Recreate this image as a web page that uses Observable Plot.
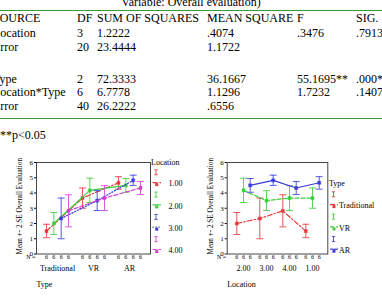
<!DOCTYPE html>
<html><head><meta charset="utf-8">
<script src="https://cdn.jsdelivr.net/npm/d3@7"></script>
<script src="https://cdn.jsdelivr.net/npm/@observablehq/plot@0.6"></script>
<style>
body{margin:0;background:#fff;}
#root{position:relative;width:382px;height:297px;overflow:hidden;font-family:"Liberation Serif","Times New Roman",serif;color:#000;background:#fff;}
.t{position:absolute;font-size:12px;line-height:14px;white-space:nowrap;}
.hr{position:absolute;left:0;width:382px;height:0;border-top:1.5px solid #3a9a3a;}
.plot{position:absolute;}
.plot svg{display:block;font-family:"Liberation Serif","Times New Roman",serif !important;}
.plot svg text{font-family:"Liberation Serif","Times New Roman",serif !important;}
#legend text{font-family:"Liberation Serif","Times New Roman",serif;}
#legend{position:absolute;left:0;top:0;}
</style></head><body><div id="root"></div>
<script>
// ---------- table data ----------
const tableTitle = "Variable: Overall evaluation)";
const tableHeader = ["SOURCE", "DF", "SUM OF SQUARES", "MEAN SQUARE", "F", "SIG."];
const tableRows = [
  ["Location", "3", "1.2222", ".4074", ".3476", ".7913"],
  ["Error", "20", "23.4444", "1.1722", "", ""],
  ["Type", "2", "72.3333", "36.1667", "55.1695**", ".000**"],
  ["Location*Type", "6", "6.7778", "1.1296", "1.7232", ".1407"],
  ["Error", "40", "26.2222", ".6556", "", ""]
];
const footnote = "**p<0.05";

// ---------- chart data ----------
const types = ["Traditional", "VR", "AR"];
const locations = ["1.00", "2.00", "3.00", "4.00"];
const locationOrder = ["2.00", "3.00", "4.00", "1.00"];
// rows: location 1.00..4.00 ; cols: Traditional, VR, AR
const means = [
  [1.50, 3.67, 4.67],
  [2.00, 4.17, 4.50],
  [2.33, 3.50, 4.83],
  [2.83, 3.67, 4.33]
];
const lower = [
  [1.07, 3.00, 4.25],
  [1.28, 3.38, 4.05],
  [1.00, 2.85, 4.50],
  [1.78, 2.85, 3.90]
];
const upper = [
  [1.95, 4.33, 5.07],
  [2.72, 4.97, 4.95],
  [3.67, 4.15, 5.17],
  [3.88, 4.48, 4.75]
];
const nPerCell = [6, 6, 6, 6];
const yTicks = [0, 1, 2, 3, 4, 5, 6];
const yTitle = "Mean +- 2 SE Overall Evaluation";

// ---------- styles ----------
const locColors = ["#e63a3f", "#3fcc3f", "#3b3bdc", "#d63cd6"];
const locDash = ["5,2,1.5,2", undefined, "1.2,1.8", "4,2"];
const typeColors = ["#e63a3f", "#3fcc3f", "#3b3bdc"];
const typeDash = ["5,2,1.5,2", "4,2", undefined];
const FONT = "'Liberation Serif', 'Times New Roman', serif";

const root = document.getElementById("root");

// ---------- table ----------
function addText(txt, left, center, extra) {
  const d = document.createElement("div");
  d.className = "t";
  d.textContent = txt;
  d.style.left = left + "px";
  d.style.top = (center - 7.5) + "px";
  if (extra) Object.assign(d.style, extra);
  root.appendChild(d);
  return d;
}
const colX = [-7, 77, 97, 207, 297, 356];
addText(tableTitle, 0, 2.3, {width: "382px", textAlign: "center", left: "0px"});
const hr1 = document.createElement("div"); hr1.className = "hr"; hr1.style.top = "10px"; root.appendChild(hr1);
tableHeader.forEach((h, i) => addText(h, colX[i], 18));
const rowY = [33, 47, 79, 92.5, 106];
tableRows.forEach((r, ri) => r.forEach((c, ci) => { if (c) addText(c, colX[ci], rowY[ri]); }));
const hr2 = document.createElement("div"); hr2.className = "hr"; hr2.style.top = "118px"; root.appendChild(hr2);
addText(footnote, 0, 135);

// ---------- charts ----------
const cap = {draw(ctx, size) { const r = Math.sqrt(size / Math.PI); ctx.moveTo(-r, 0); ctx.lineTo(r, 0); }};

function chart({groups, groupPad, series, colors, dashes, dodge, val, lo, hi, width, mL, mR, xTitle}) {
  const rows = [];
  series.forEach((s, si) => groups.forEach((g) => {
    rows.push({s, si, g, mean: val(si, g), lo: lo(si, g), hi: hi(si, g), n: nPerCell[0]});
  }));
  const marks = [];
  series.forEach((s, si) => {
    const d = rows.filter(r => r.si === si);
    const dx = (si - (series.length - 1) / 2) * dodge;
    const c = colors[si];
    marks.push(
      Plot.ruleX(d, {x: "g", y1: "lo", y2: "hi", stroke: c, strokeWidth: 1, strokeOpacity: 0.85, dx}),
      Plot.dot(d, {x: "g", y: "lo", symbol: cap, r: 3.5, fill: "none", stroke: c, strokeWidth: 1, strokeOpacity: 0.85, dx}),
      Plot.dot(d, {x: "g", y: "hi", symbol: cap, r: 3.5, fill: "none", stroke: c, strokeWidth: 1, strokeOpacity: 0.85, dx}),
      Plot.line(d, {x: "g", y: "mean", stroke: c, strokeWidth: 1.2, strokeDasharray: dashes[si], dx}),
      Plot.dot(d, {x: "g", y: "mean", symbol: "square", r: 1.7, fill: c, stroke: c, strokeWidth: 0.5, dx}),
      Plot.text(d, {x: "g", text: "n", frameAnchor: "bottom", dy: 5, dx, fontSize: 6, fontFamily: FONT})
    );
  });
  marks.push(
    Plot.frame({stroke: "#444", strokeWidth: 1}),
    Plot.axisY({ticks: yTicks, tickSize: 2, tickPadding: 1.5, fontSize: 7, fontFamily: FONT, label: null, tickFormat: d => d}),
    Plot.axisX({tickSize: 0, tickPadding: 11.5, fontSize: 8, fontFamily: FONT, label: null}),
    Plot.text([yTitle], {frameAnchor: "left", textAnchor: "middle", rotate: -90, dx: -17, dy: -2, fontSize: 7.2, fontFamily: FONT}),
    Plot.text([xTitle], {frameAnchor: "bottom-left", textAnchor: "start", dy: 32.5, fontSize: 8, fontFamily: FONT}),
    Plot.text(["N ="], {frameAnchor: "bottom-left", textAnchor: "end", dx: -1, dy: 5, fontSize: 6, fontFamily: FONT})
  );
  return Plot.plot({
    width, height: 167,
    marginLeft: mL, marginRight: mR, marginTop: 32, marginBottom: 43.5,
    x: {type: "point", domain: groups, padding: groupPad},
    y: {domain: [0, 6]},
    style: {fontFamily: FONT, background: "transparent", color: "#000", overflow: "visible"},
    marks
  });
}

function place(el, left, top, w) {
  const d = document.createElement("div");
  d.className = "plot";
  d.style.left = left + "px"; d.style.top = top + "px"; d.style.width = w + "px";
  d.appendChild(el);
  root.appendChild(d);
}

const leftChart = chart({
  groups: types, groupPad: 0.566, series: locations, colors: locColors, dashes: locDash, dodge: 7.35,
  val: (si, g) => means[si][types.indexOf(g)],
  lo: (si, g) => lower[si][types.indexOf(g)],
  hi: (si, g) => upper[si][types.indexOf(g)],
  width: 190, mL: 36, mR: 40, xTitle: "Type"
});
place(leftChart, 0, 130, 190);

const rightChart = chart({
  groups: locationOrder, groupPad: 0.6, series: types, colors: typeColors, dashes: typeDash, dodge: 6.7,
  val: (si, g) => means[locations.indexOf(g)][si],
  lo: (si, g) => lower[locations.indexOf(g)][si],
  hi: (si, g) => upper[locations.indexOf(g)][si],
  width: 192, mL: 36.7, mR: 54.7, xTitle: "Location"
});
place(rightChart, 190, 130, 192);

// ---------- legends ----------
const svg = d3.select(root).append("svg").attr("id", "legend")
  .attr("width", 382).attr("height", 297)
  .attr("font-family", FONT).style("pointer-events", "none");

function legend({title, tx, ty, names, colors, dashes, iconX, lineX0, lineX1, labelX, y0, step}) {
  svg.append("text").attr("x", tx).attr("y", ty).attr("dy", "0.35em").attr("font-size", 8).text(title);
  names.forEach((nm, i) => {
    const yI = y0 + step * i, yL = yI + 11.3, c = colors[i];
    const g = svg.append("g");
    g.append("line").attr("x1", iconX).attr("x2", iconX).attr("y1", yI - 2.5).attr("y2", yI + 2.5).attr("stroke", c).attr("stroke-opacity", 0.85);
    g.append("line").attr("x1", iconX - 1.7).attr("x2", iconX + 1.7).attr("y1", yI - 2.5).attr("y2", yI - 2.5).attr("stroke", c).attr("stroke-opacity", 0.85);
    g.append("line").attr("x1", iconX - 1.7).attr("x2", iconX + 1.7).attr("y1", yI + 2.5).attr("y2", yI + 2.5).attr("stroke", c).attr("stroke-opacity", 0.85);
    g.append("line").attr("x1", lineX0).attr("x2", lineX1).attr("y1", yL - 1).attr("y2", yL - 1)
      .attr("stroke", c).attr("stroke-width", 1.2).attr("stroke-dasharray", dashes[i] || null);
    g.append("rect").attr("x", (lineX0 + lineX1) / 2 - 1.5).attr("y", yL - 0.5).attr("width", 3).attr("height", 3).attr("fill", c);
    g.append("text").attr("x", labelX).attr("y", yL).attr("dy", "0.35em").attr("font-size", 8).text(nm);
  });
}
legend({title: "Location", tx: 151, ty: 162, names: locations, colors: locColors, dashes: locDash,
  iconX: 156, lineX0: 152.5, lineX1: 161, labelX: 168.5, y0: 172.3, step: 22.3});
legend({title: "Type", tx: 329, ty: 183.5, names: types, colors: typeColors, dashes: typeDash,
  iconX: 333.5, lineX0: 330, lineX1: 338, labelX: 339, y0: 194.3, step: 22.3});
</script></body></html>
